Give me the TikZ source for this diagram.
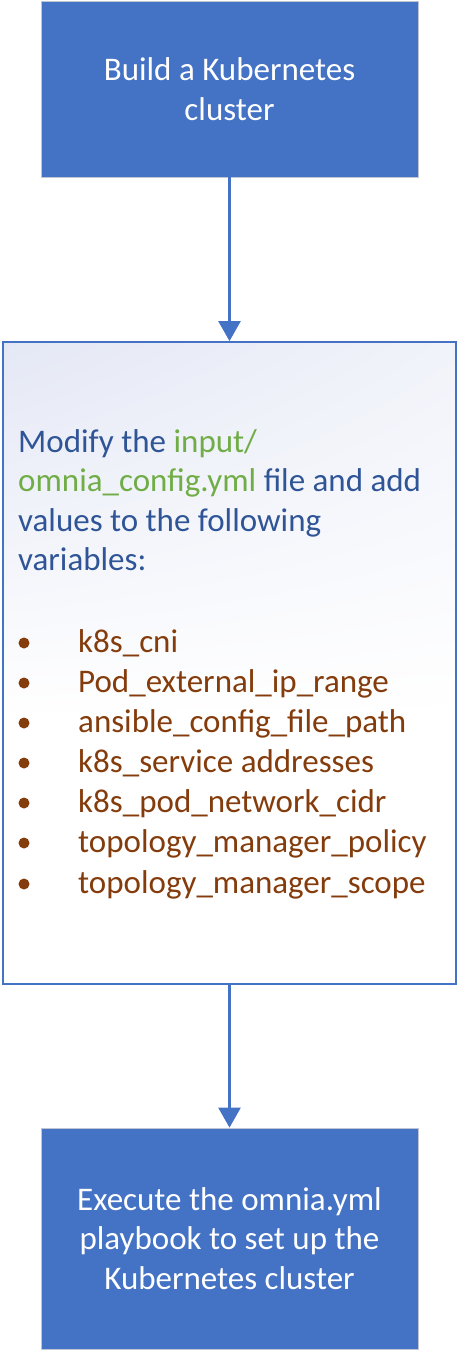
\documentclass[tikz,border=0pt]{standalone}
\usepackage{fontspec}
\setmainfont{Carlito}
\usetikzlibrary{arrows.meta,shadings}
\definecolor{boxblue}{HTML}{4472C4}
\definecolor{edgegray}{HTML}{BFC5D2}
\definecolor{txtblue}{HTML}{2F5597}
\definecolor{txtgreen}{HTML}{70AD47}
\definecolor{txtbrown}{HTML}{843C0C}
\definecolor{lav}{HTML}{E4E8F5}
\definecolor{lavr}{HTML}{F1F3FA}
\begin{document}
\begin{tikzpicture}[x=1pt,y=1pt,
  bluebox/.style={draw=edgegray, line width=0.8pt, fill=boxblue, text=white,
    minimum width=377pt, align=center, inner sep=0pt,
    font=\fontsize{33}{39.5}\selectfont},
  midbox/.style={draw=boxblue, line width=1.8pt, minimum width=453pt,
    minimum height=642pt, inner sep=0pt},
  conn/.style={draw=boxblue, line width=2.6pt,
    -{Triangle[width=22pt,length=20pt]}},
  line/.style={anchor=base west, inner sep=0pt, font=\fontsize{33}{39.5}\selectfont},
  blt/.style={circle, fill=txtbrown, inner sep=0pt, minimum size=11pt}
]
\useasboundingbox (0,0) rectangle (457,-1351);
% gradient background of the middle box
\shade[upper left=lav, upper right=lavr, lower left=white, lower right=white]
  (3,-342) rectangle (456,-720);
\node[bluebox, minimum height=176pt] (build) at (229.5,-89) {Build a Kubernetes\\cluster};
\node[midbox] (modify) at (229.5,-663) {};
\node[bluebox, minimum height=221pt] (exec) at (229.5,-1238.5)
  {Execute the omnia.yml\\playbook to set up the\\Kubernetes cluster};
\draw[conn] (build) -- (modify);
\draw[conn] (modify) -- (exec);
% paragraph
\node[line, text=txtblue] (l1) at (18,-452) {Modify the \textcolor{txtgreen}{input/}};
\node[line, text=txtblue] (l2) at (18,-491) {\textcolor{txtgreen}{omnia\_config.yml} file and add};
\node[line, text=txtblue] (l3) at (18,-531) {values to the following};
\node[line, text=txtblue] (l4) at (18,-570) {variables:};
% bullets
\foreach \y/\t [count=\i] in {652/k8s\_cni, 692/Pod\_external\_ip\_range,
  732/ansible\_config\_file\_path, 772/k8s\_service addresses,
  812/k8s\_pod\_network\_cidr, 852/topology\_manager\_policy,
  893/topology\_manager\_scope}{
  \node[blt] (b\i) at (24,-\y+9) {};
  \node[line, text=txtbrown] (v\i) at (78,-\y) {\t};
}
\end{tikzpicture}
\end{document}
